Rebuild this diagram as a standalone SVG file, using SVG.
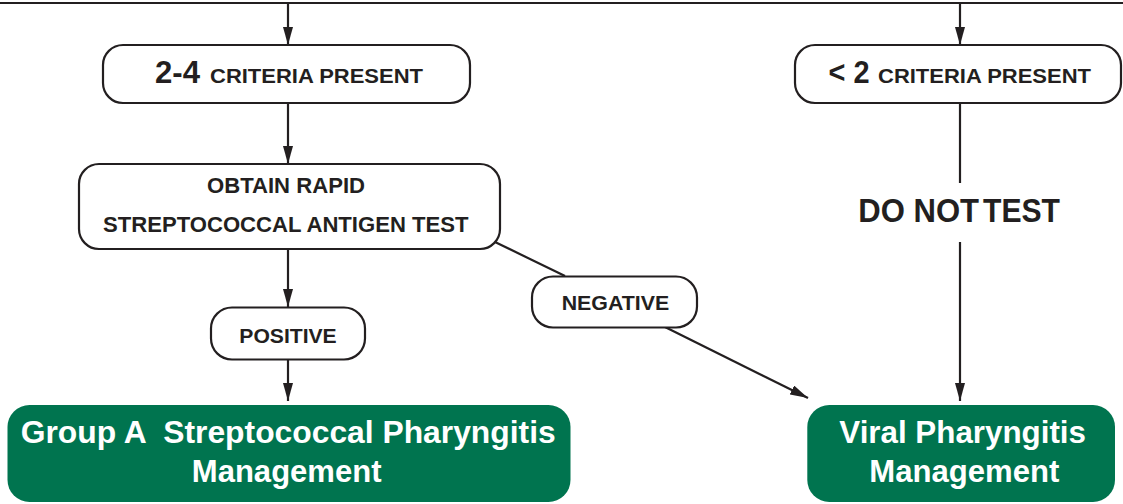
<svg xmlns="http://www.w3.org/2000/svg" width="1123" height="504" viewBox="0 0 1123 504">
<style>
.box{fill:#fff;stroke:#231f20;stroke-width:2.2}
.green{fill:#00744f;stroke:none}
.t{font-family:"Liberation Sans",Arial,sans-serif;font-weight:bold;fill:#231f20}
.w{font-family:"Liberation Sans",Arial,sans-serif;font-weight:bold;fill:#fff}
.ln{stroke:#231f20;stroke-width:2.2;fill:none}
</style>
<defs>
<marker id="ah" markerUnits="userSpaceOnUse" markerWidth="19" markerHeight="10" refX="18" refY="5" orient="auto">
<path d="M0,0 L18,5 L0,10 z" fill="#231f20"/>
</marker>
</defs>
<rect width="1123" height="504" fill="#fff"/>
<g id="connectors">
<path class="ln" d="M0,3 H1123"/>
<path class="ln" d="M288,3 V45" marker-end="url(#ah)"/>
<path class="ln" d="M288,103 V164" marker-end="url(#ah)"/>
<path class="ln" d="M288,249 V307" marker-end="url(#ah)"/>
<path class="ln" d="M288,359 V401" marker-end="url(#ah)"/>
<path class="ln" d="M960,3 V45" marker-end="url(#ah)"/>
<path class="ln" d="M960,103 V183"/>
<path class="ln" d="M960,242 V401" marker-end="url(#ah)"/>
<path class="ln" d="M495,242 L565,276"/>
<path class="ln" d="M665,327 L808,398" marker-end="url(#ah)"/>
</g>
<g id="criteria24">
<rect class="box" x="103" y="45" width="367" height="58" rx="20"/>
<text class="t" x="155" y="83" font-size="31" textLength="45" lengthAdjust="spacingAndGlyphs">2-4</text>
<text class="t" x="210" y="83" font-size="21" textLength="213" lengthAdjust="spacingAndGlyphs">CRITERIA PRESENT</text>
</g>
<g id="criteria2">
<rect class="box" x="795" y="45" width="326" height="58" rx="20"/>
<text class="t" x="828.5" y="83" font-size="31" textLength="41" lengthAdjust="spacingAndGlyphs">&lt; 2</text>
<text class="t" x="878" y="83" font-size="21" textLength="213" lengthAdjust="spacingAndGlyphs">CRITERIA PRESENT</text>
</g>
<g id="rapidtest">
<rect class="box" x="79" y="164" width="421" height="85" rx="20"/>
<text class="t" x="207" y="193.3" font-size="22" textLength="158" lengthAdjust="spacingAndGlyphs">OBTAIN RAPID</text>
<text class="t" x="103" y="231.7" font-size="22" textLength="365.5" lengthAdjust="spacingAndGlyphs">STREPTOCOCCAL ANTIGEN TEST</text>
</g>
<g id="positive">
<rect class="box" x="211" y="307.5" width="154" height="52" rx="21"/>
<text class="t" x="239.3" y="342.7" font-size="21" textLength="97.4" lengthAdjust="spacingAndGlyphs">POSITIVE</text>
</g>
<g id="negative">
<rect class="box" x="532" y="276.5" width="165" height="51" rx="21"/>
<text class="t" x="561.7" y="310" font-size="21" textLength="107.6" lengthAdjust="spacingAndGlyphs">NEGATIVE</text>
</g>
<g id="donottest">
<text class="t" y="222.3" font-size="32.5"><tspan x="858.3" textLength="120.7" lengthAdjust="spacingAndGlyphs">DO NOT</tspan> <tspan x="983" textLength="77" lengthAdjust="spacingAndGlyphs">TEST</tspan></text>
</g>
<g id="gas">
<rect class="green" x="7.5" y="405" width="563" height="97" rx="22"/>
<text class="w" x="20.7" y="442.7" font-size="31" textLength="535" lengthAdjust="spacingAndGlyphs" xml:space="preserve">Group A  Streptococcal Pharyngitis</text>
<text class="w" x="191.8" y="481.7" font-size="31" textLength="189.7" lengthAdjust="spacingAndGlyphs">Management</text>
</g>
<g id="viral">
<rect class="green" x="807.3" y="405" width="307.7" height="97" rx="22"/>
<text class="w" x="839.3" y="442.7" font-size="31" textLength="246.7" lengthAdjust="spacingAndGlyphs">Viral Pharyngitis</text>
<text class="w" x="869.3" y="481.7" font-size="31" textLength="190" lengthAdjust="spacingAndGlyphs">Management</text>
</g>
</svg>
